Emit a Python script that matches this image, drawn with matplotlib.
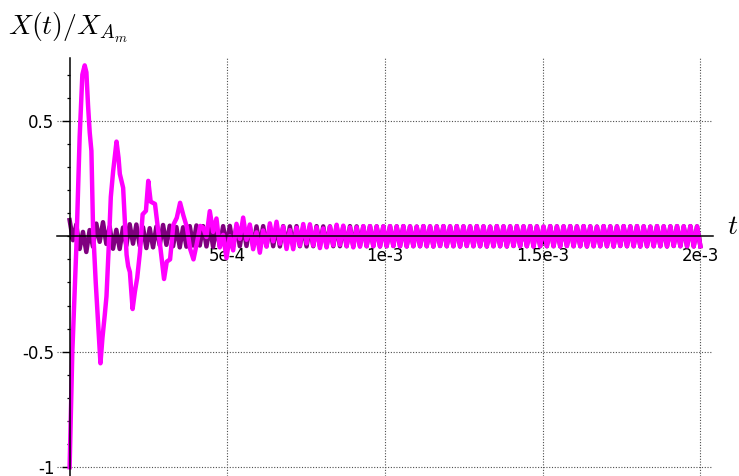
import matplotlib
matplotlib.use("Agg")
import matplotlib.pyplot as plt
from matplotlib.ticker import MultipleLocator
import numpy as np

# ---- data ----
# magenta curve, start-up part: time in microseconds, X/X_Am
MAG_EARLY_T_US = [0.0, 8.6, 21.3, 31.8, 40.4, 47.8, 53.2, 58.3, 63.7, 69.1,
                  74.2, 82.8, 90.1, 97.8, 104.1, 111.5, 116.9, 125.2, 130.6, 137.9,
                  148.7, 155.1, 159.2, 169.7, 175.2, 180.6, 185.7, 191.1, 199.7, 207.0,
                  214.3, 222.9, 231.5, 242.0, 249.4, 257.0, 270.7, 281.2, 286.6, 299.4,
                  308.0, 318.5, 329.0, 339.8, 350.3, 360.8, 371.7, 382.2, 392.7, 403.5,
                  414.0]
MAG_EARLY_X = [-1.0, -0.5, -0.05, 0.43, 0.70, 0.74, 0.71, 0.57, 0.45, 0.37,
               0.04, -0.2, -0.37, -0.55, -0.44, -0.34, -0.26, -0.01, 0.17, 0.28,
               0.41, 0.34, 0.27, 0.21, 0.065, -0.08, -0.13, -0.155, -0.315, -0.24,
               -0.18, -0.07, 0.095, 0.11, 0.24, 0.15, 0.14, 0.02, -0.035, -0.185,
               -0.11, -0.10, 0.05, 0.08, 0.145, 0.09, 0.04, -0.055, -0.10, -0.03,
               0.045]

# fast oscillation: peaks/troughs every half period, 189 half periods in 2e-3 s
T_END = 2e-3
N_HALF = 189

# magenta extremes, half-periods 40..88
MAG_MID_X = [0.037, -0.003, 0.109, 0.019, 0.077, -0.048, 0.006, -0.094, 0.000, -0.061,
             0.054, -0.011, 0.081, -0.015, 0.051, -0.056, 0.017, -0.071, 0.025, -0.045,
             0.056, -0.022, 0.063, -0.032, 0.042, -0.055, 0.027, -0.056, 0.037, -0.040,
             0.053, -0.031, 0.052, -0.040, 0.039, -0.051, 0.034, -0.048, 0.042, -0.039,
             0.050, -0.037, 0.046, -0.043, 0.039, -0.048, 0.039, -0.045, 0.044]
MAG_MID_START = 40

# purple extremes, half-periods 0..50
PUR_EARLY_X = [0.070, -0.017, 0.051, -0.055, 0.019, -0.068, 0.027, -0.045, 0.055, -0.024,
               0.061, -0.033, 0.042, -0.054, 0.028, -0.055, 0.038, -0.040, 0.052, -0.032,
               0.051, -0.041, 0.039, -0.051, 0.035, -0.048, 0.042, -0.039, 0.049, -0.037,
               0.046, -0.043, 0.040, -0.048, 0.039, -0.045, 0.044, -0.040, 0.047, -0.040,
               0.044, -0.044, 0.041, -0.046, 0.041, -0.043, 0.044, -0.041, 0.045, -0.042,
               0.043]

# steady state shared by both curves, half-periods 51..189
STEADY_START = 51
STEADY_X = [-0.043, 0.044, -0.042, 0.043, -0.044, 0.043, -0.043, 0.044, -0.042, 0.043,
            -0.043, 0.043, -0.044, 0.044, -0.042, 0.043, -0.043, 0.044, -0.043, 0.042,
            -0.044, 0.043, -0.043, 0.044, -0.042, 0.043, -0.044, 0.043, -0.043, 0.044,
            -0.043, 0.042, -0.043, 0.044, -0.044, 0.043, -0.042, 0.043, -0.043, 0.044,
            -0.043, 0.043, -0.044, 0.043, -0.043, 0.044, -0.042, 0.043, -0.043, 0.044,
            -0.044, 0.043, -0.043, 0.042, -0.043, 0.044, -0.043, 0.043, -0.044, 0.043,
            -0.042, 0.044, -0.043, 0.043, -0.043, 0.044, -0.044, 0.043, -0.042, 0.043,
            -0.043, 0.044, -0.043, 0.043, -0.044, 0.042, -0.043, 0.044, -0.043, 0.043,
            -0.044, 0.043, -0.042, 0.044, -0.043, 0.043, -0.043, 0.044, -0.044, 0.043,
            -0.043, 0.042, -0.043, 0.044, -0.043, 0.043, -0.044, 0.043, -0.042, 0.044,
            -0.043, 0.043, -0.043, 0.044, -0.044, 0.043, -0.043, 0.042, -0.043, 0.044,
            -0.043, 0.043, -0.044, 0.043, -0.042, 0.044, -0.043, 0.043, -0.043, 0.044,
            -0.044, 0.043, -0.043, 0.042, -0.043, 0.044, -0.043, 0.043, -0.044, 0.043,
            -0.042, 0.044, -0.043, 0.043, -0.043, 0.044, -0.044, 0.043, -0.043]

XTICKS = [5e-4, 1e-3, 1.5e-3, 2e-3]
XTICK_LABELS = ["5e-4", "1e-3", "1.5e-3", "2e-3"]
YTICKS = [-1.0, -0.5, 0.5]
YTICK_LABELS = ["-1", "-0.5", "0.5"]

MAGENTA = "#ff00ff"
PURPLE = "#800080"


def build_series():
    half = T_END / N_HALF
    k_pur = np.arange(len(PUR_EARLY_X) + len(STEADY_X))
    t_pur = k_pur * half
    x_pur = np.array(PUR_EARLY_X + STEADY_X)

    tail = STEADY_X[MAG_MID_START + len(MAG_MID_X) - STEADY_START:]
    k_mag = np.arange(MAG_MID_START, MAG_MID_START + len(MAG_MID_X) + len(tail))
    t_mag = np.concatenate([np.array(MAG_EARLY_T_US) * 1e-6, k_mag * half])
    x_mag = np.array(MAG_EARLY_X + MAG_MID_X + tail)
    return (t_pur, x_pur), (t_mag, x_mag)


def main() -> None:
    plt.rcParams["mathtext.fontset"] = "cm"
    (t_pur, x_pur), (t_mag, x_mag) = build_series()

    fig = plt.figure(figsize=(7.39, 4.76), dpi=100)
    ax = fig.add_axes([57 / 739, 0.0, 656 / 739, 418 / 476])

    ax.plot(t_pur, x_pur, color=PURPLE, linewidth=3.2, solid_joinstyle="round")
    ax.plot(t_mag, x_mag, color=MAGENTA, linewidth=3.2, solid_joinstyle="round")

    ax.set_xlim(-4.0e-5, 2.04e-3)
    ax.set_ylim(-1.038, 0.772)

    for side in ["top", "right"]:
        ax.spines[side].set_visible(False)
    ax.spines["left"].set_position(("data", 0))
    ax.spines["bottom"].set_position(("data", 0))
    for side in ["left", "bottom"]:
        ax.spines[side].set_linewidth(1.1)

    ax.set_xticks(XTICKS)
    ax.set_xticklabels(XTICK_LABELS)
    ax.set_yticks(YTICKS)
    ax.set_yticklabels(YTICK_LABELS)
    ax.xaxis.set_minor_locator(MultipleLocator(1e-4))
    ax.yaxis.set_minor_locator(MultipleLocator(0.1))
    ax.tick_params(which="major", direction="out", length=5.8, width=1.0, labelsize=12)
    ax.tick_params(which="minor", direction="out", length=2.4, width=0.9)
    ax.tick_params(axis="x", which="major", pad=2)
    ax.tick_params(axis="y", which="major", pad=5)

    ax.grid(True, which="major", linestyle=(0, (1, 1.5)), color="0.3", linewidth=0.8)

    ax.annotate(r"$X(t)/X_{A_m}$", xy=(0, 1), xycoords=("data", "axes fraction"),
                xytext=(-1, 16.5), textcoords="offset points",
                ha="center", va="baseline", fontsize=20, annotation_clip=False)
    ax.annotate(r"$t$", xy=(1, 0), xycoords=("axes fraction", "data"),
                xytext=(10, 1.5), textcoords="offset points",
                ha="left", va="baseline", fontsize=20, annotation_clip=False)

    fig.savefig("out.png", dpi=100)
    plt.close(fig)


if __name__ == "__main__":
    main()
